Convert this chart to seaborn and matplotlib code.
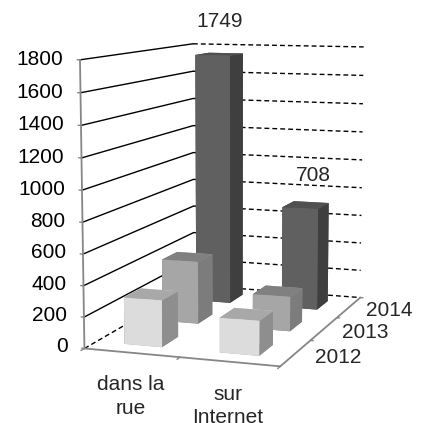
import matplotlib
matplotlib.use('Agg')
import matplotlib.pyplot as plt
import seaborn as sns
import pandas as pd

categories = ['dans la\nrue', 'sur\nInternet']
annees = ['2012', '2013', '2014']
val_2012 = [300, 220]
val_2013 = [420, 230]
val_2014 = [1749, 708]
z_ticks = [0, 200, 400, 600, 800, 1000, 1200, 1400, 1600, 1800]

# front, top, side
couleurs = {
    '2012': ('#DCDCDC', '#A8A8A8', '#8E8E8E'),
    '2013': ('#A6A6A6', '#808080', '#7C7C7C'),
    '2014': ('#606060', '#505050', '#3F3F3F'),
}

df = pd.DataFrame({'2012': val_2012, '2013': val_2013, '2014': val_2014}, index=categories)

sns.set_theme(style='white')
plt.rcParams['font.family'] = ['Liberation Sans', 'DejaVu Sans']

fig = plt.figure(figsize=(4.21, 4.23), dpi=100)
ax = fig.add_axes([0.038, 0.04, 1.0, 1.0], projection='3d', proj_type='persp', focal_length=0.65)
ax.set_box_aspect((182, 278, 256), zoom=1.025)
ax.view_init(elev=8.6, azim=-71)
ax.set_xlim(0, 2, view_margin=0)
ax.set_ylim(0, 3, view_margin=0)
ax.set_zlim(0, 1800, view_margin=0)
ax.set_xticks([])
ax.set_yticks([])
ax.set_zticks([])
ax.set_axis_off()
ax.computed_zorder = False

gris = '#868686'
fs = 15

# murs
for z in z_ticks:
    ax.plot([0, 0], [0, 3], [z, z], color='black', lw=1.0, zorder=1, ls='-' if z > 0 else (0, (3.5, 2.2)))
    ax.plot([0, 2], [3, 3], [z, z], color='black', lw=1.0, zorder=1, ls=(0, (3.5, 2.2)))
    ax.plot([-0.03, 0], [0, 0], [z, z], color=gris, lw=1.0, zorder=2)
    ax.text(-0.18, 0, z, str(z), ha='right', va='center', fontsize=fs, color='black')

ax.plot([0, 0], [0, 0], [0, 1800], color=gris, lw=1.3, zorder=2)
ax.plot([0, 2], [0, 0], [0, 0], color=gris, lw=1.3, zorder=2)
ax.plot([2, 2], [0, 3], [0, 0], color=gris, lw=1.3, zorder=2)
for xt in [0, 1, 2]:
    ax.plot([xt, xt], [0, -0.08], [0, 0], color=gris, lw=1.0, zorder=2)
for yt in [1, 2, 3]:
    ax.plot([2, 2.03], [yt, yt], [0, 0], color=gris, lw=1.0, zorder=2)

# barres
w, d = 0.40, 0.43
zo = 3
for j, annee in reversed(list(enumerate(annees))):
    front, top, side = couleurs[annee]
    for i, cat in enumerate(categories):
        h = df.loc[cat, annee]
        ax.bar3d(i + 0.5 - w / 2, j + 0.5 - d / 2, 0, w, d, h,
                 color=[top, top, front, front, side, side], shade=False, zorder=zo, lw=0)
        zo += 1

# etiquettes
ax.text(0.5, 2.5, val_2014[0] + 225, str(val_2014[0]), ha='center', va='center', fontsize=fs, zorder=20)
ax.text(1.58, 2.5, val_2014[1] + 210, str(val_2014[1]), ha='center', va='center', fontsize=fs, zorder=20)
for i, cat in enumerate(categories):
    ax.text(i * 0.97 + 0.62, -0.3, -85, cat, ha='center', va='top', fontsize=fs, linespacing=1.3)
for j, annee in enumerate(annees):
    ax.text(2.19, j + 0.5, -15, annee, ha='left', va='center', fontsize=fs)

fig.savefig('out.png', dpi=100)
